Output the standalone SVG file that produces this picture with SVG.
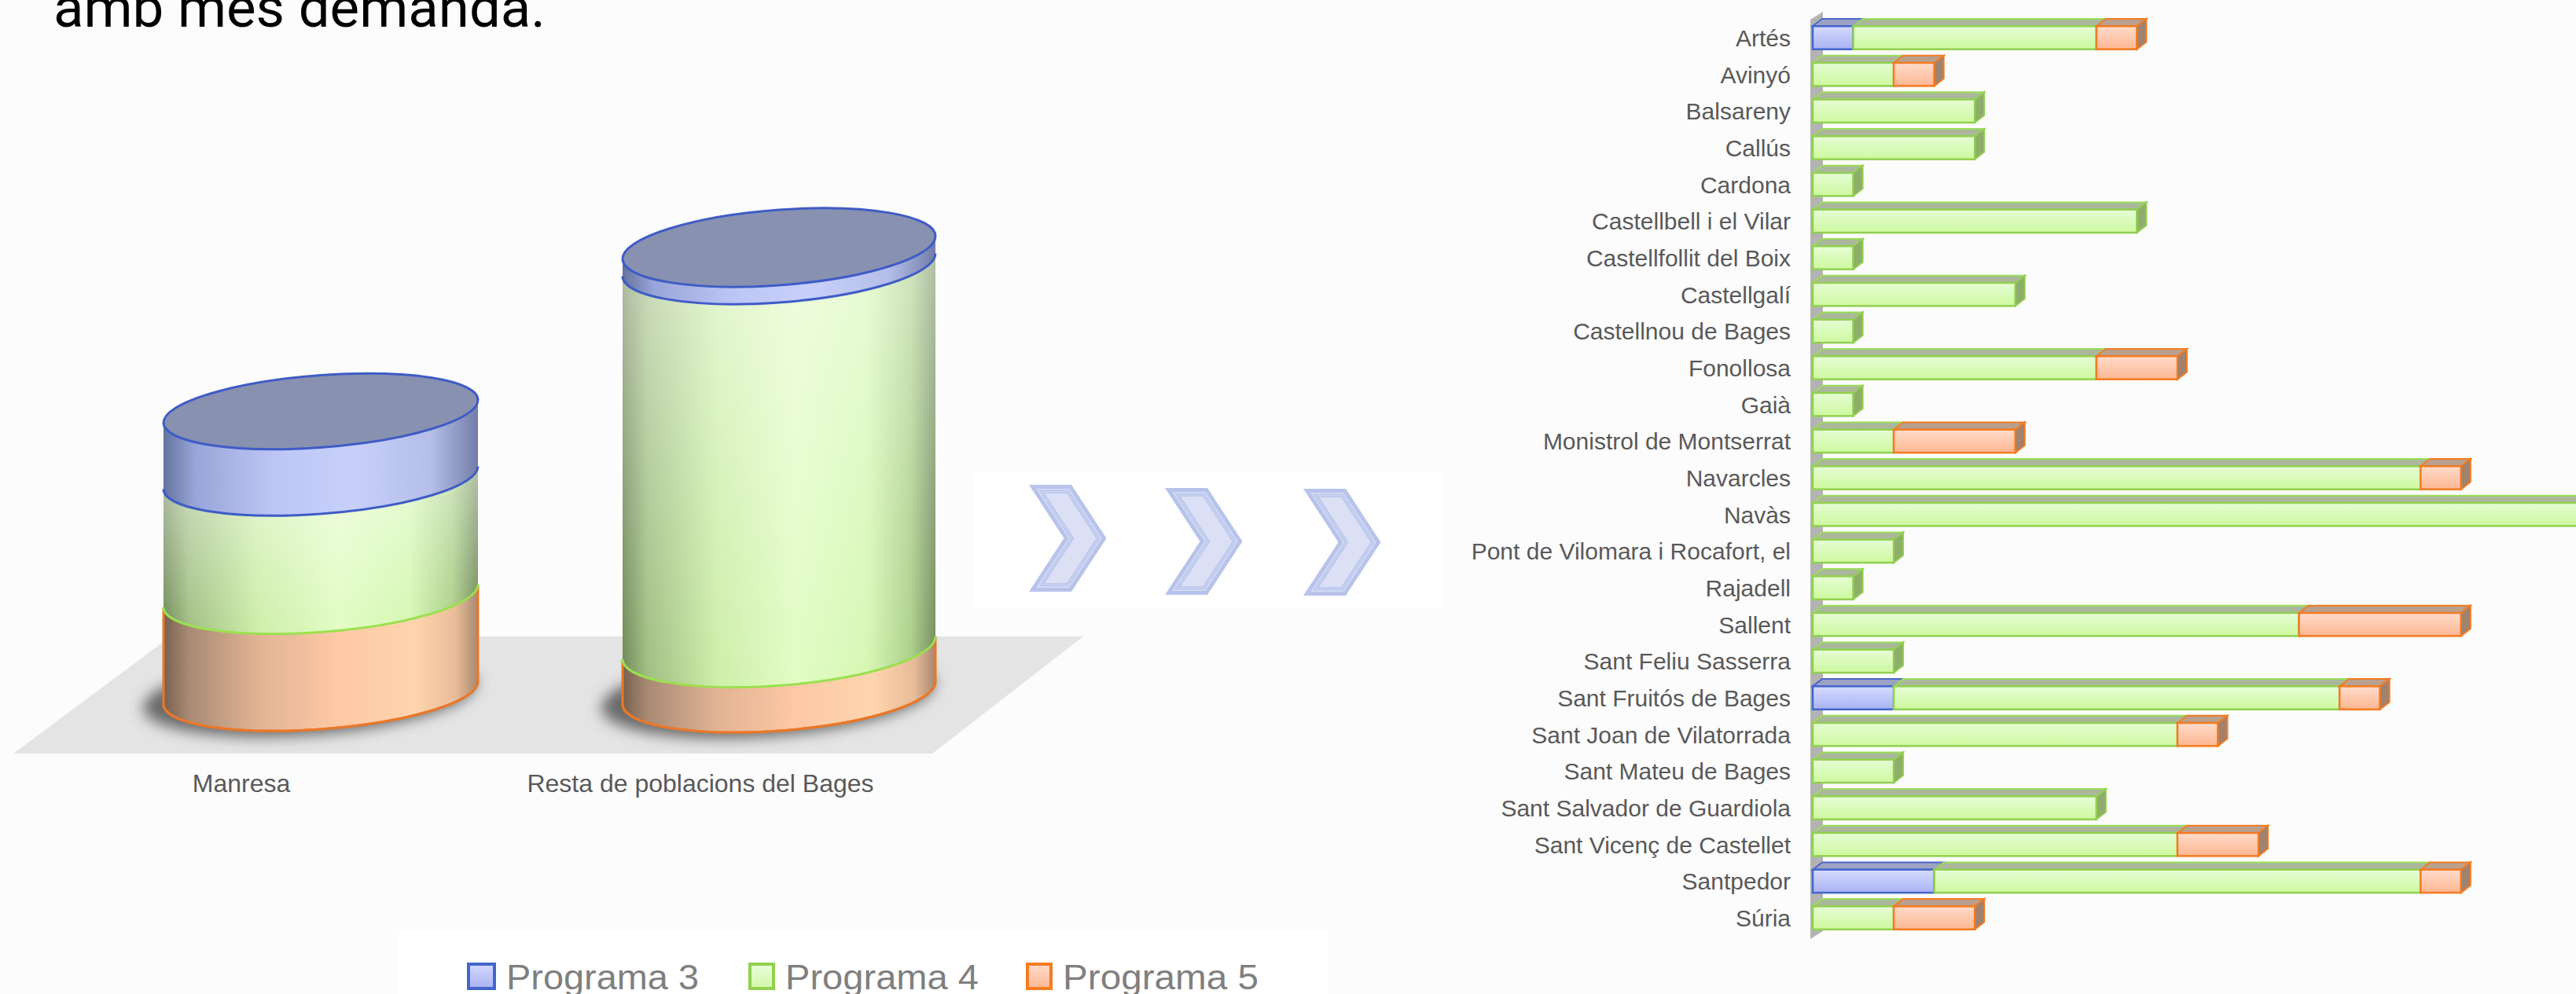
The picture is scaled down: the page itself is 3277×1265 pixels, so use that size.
<svg xmlns="http://www.w3.org/2000/svg" width="3277" height="1265" viewBox="0 0 3277 1265">
<style>
.lbl{font-family:"Liberation Sans",Arial,sans-serif;font-size:30px;fill:#595959;text-anchor:end}
.clbl{font-family:"Liberation Sans",Arial,sans-serif;font-size:32px;fill:#595959;text-anchor:middle}
.leg{font-family:"Liberation Sans",Arial,sans-serif;font-size:45px;fill:#7f7f7f}
.tg{fill:#abb79c;stroke:#9ade58;stroke-width:2}
.fg{fill:url(#gG);stroke:#92d050;stroke-width:2.5}
.rg{fill:#8fad6b;stroke:#92d050;stroke-width:2}
.tb{fill:#9ca3c2;stroke:#4a67cc;stroke-width:2}
.fb{fill:url(#gB);stroke:#4466cc;stroke-width:2.5}
.to{fill:#b9a08f;stroke:#f47b20;stroke-width:2}
.fo{fill:url(#gO);stroke:#f47b20;stroke-width:2.5}
.ro{fill:#a0826e;stroke:#f47b20;stroke-width:2}
.arcO{fill:none;stroke:#e8782a;stroke-width:3}
.arcG{fill:none;stroke:#9be04f;stroke-width:3}
.arcB{fill:none;stroke:#3f5cc6;stroke-width:3}
</style>
<defs>
<linearGradient id="gG" x1="0" y1="0" x2="0" y2="1"><stop offset="0" stop-color="#e6fdd6"/><stop offset="1" stop-color="#cdf99e"/></linearGradient>
<linearGradient id="gB" x1="0" y1="0" x2="0" y2="1"><stop offset="0" stop-color="#d6dbff"/><stop offset="1" stop-color="#a9b3f2"/></linearGradient>
<linearGradient id="gO" x1="0" y1="0" x2="0" y2="1"><stop offset="0" stop-color="#ffdccb"/><stop offset="1" stop-color="#fdb692"/></linearGradient>
<linearGradient id="cyO" x1="0" y1="0" x2="1" y2="0"><stop offset="0" stop-color="#786050"/><stop offset="0.08" stop-color="#a88a74"/><stop offset="0.3" stop-color="#e2b394"/><stop offset="0.55" stop-color="#fdc8a4"/><stop offset="0.8" stop-color="#fed5ae"/><stop offset="0.93" stop-color="#e8bc98"/><stop offset="1" stop-color="#a88870"/></linearGradient>
<linearGradient id="cyG" x1="0" y1="0" x2="1" y2="0"><stop offset="0" stop-color="#6d8755"/><stop offset="0.08" stop-color="#9fbe80"/><stop offset="0.3" stop-color="#cdeea8"/><stop offset="0.55" stop-color="#e2fcc4"/><stop offset="0.78" stop-color="#d6f8b4"/><stop offset="0.92" stop-color="#acd08a"/><stop offset="1" stop-color="#738d5c"/></linearGradient>
<linearGradient id="cyB" x1="0" y1="0" x2="1" y2="0"><stop offset="0" stop-color="#65739f"/><stop offset="0.1" stop-color="#98a5d8"/><stop offset="0.35" stop-color="#bcc6f4"/><stop offset="0.6" stop-color="#c8d0fa"/><stop offset="0.85" stop-color="#b4bee9"/><stop offset="1" stop-color="#737ea8"/></linearGradient>
<linearGradient id="gV" x1="0" y1="0" x2="0" y2="1"><stop offset="0" stop-color="#ffffff" stop-opacity="0.45"/><stop offset="1" stop-color="#ffffff" stop-opacity="0"/></linearGradient>
<linearGradient id="lgB" x1="0" y1="0" x2="0" y2="1"><stop offset="0" stop-color="#d4d9ff"/><stop offset="1" stop-color="#a8b2f0"/></linearGradient>
<linearGradient id="lgG" x1="0" y1="0" x2="0" y2="1"><stop offset="0" stop-color="#eafdda"/><stop offset="1" stop-color="#d0f8a8"/></linearGradient>
<linearGradient id="lgO" x1="0" y1="0" x2="0" y2="1"><stop offset="0" stop-color="#ffdacb"/><stop offset="1" stop-color="#fdb894"/></linearGradient>
<filter id="blur" x="-20%" y="-50%" width="140%" height="200%"><feGaussianBlur stdDeviation="9"/></filter>
<g id="chev">
<polygon points="0,0 54,0 98.5,68 54,136 0,136 44.5,68" fill="#b8c3eb"/>
<polygon points="9.22,5 51.32,5 92.55,68 51.32,131 9.22,131 50.45,68" fill="#d5dcf4"/>
<polygon points="13.84,7.5 49.98,7.5 89.57,68 49.98,128.5 13.84,128.5 53.43,68" fill="none" stroke="#b8c3eb" stroke-width="1.5"/>
<polygon points="18.44,10 48.64,10 86.6,68 48.64,126 18.44,126 56.4,68" fill="#dbe0f5" stroke="#b8c3eb" stroke-width="1.5"/>
</g>
</defs>
<rect x="0" y="0" width="3277" height="1265" fill="#fcfcfc"/>

<text x="68" y="34" font-family="Roboto,'Liberation Sans',sans-serif" font-size="70" fill="#000000" textLength="626" lengthAdjust="spacingAndGlyphs">amb més demanda.</text>

<!-- Left 3D cylinder chart -->
<g id="floor"><polygon points="217,810 1378,810 1186,959 17,959" fill="#e4e4e4"/></g>

<g id="cyl-manresa" transform="translate(408,0) skewY(-4.14) translate(-408,0)">
<ellipse cx="394" cy="884" rx="212" ry="50" fill="#4a4a4a" opacity="0.8" filter="url(#blur)"/>
<path d="M208,758.5 V882 A200,46 0 0 0 608,882 V758.5 Z" fill="url(#cyO)"/>
<path d="M208,758.5 V882 A200,46 0 0 0 608,882 V758.5" class="arcO" stroke-width="2"/>
<path d="M208,882 A200,46 0 0 0 608,882" class="arcO"/>
<path d="M208,608 V758.5 A200,46 0 0 0 608,758.5 V608 Z" fill="url(#cyG)"/>
<path d="M208,608 V758.5 A200,46 0 0 0 608,758.5 V608 Z" fill="url(#gV)"/>
<path d="M208,758.5 A200,46 0 0 0 608,758.5" class="arcG"/>
<path d="M208,523.5 V608 A200,46 0 0 0 608,608 V523.5 Z" fill="url(#cyB)"/>
<path d="M208,608 A200,46 0 0 0 608,608" class="arcB"/>
<ellipse cx="408" cy="523.5" rx="200" ry="46" fill="#8891b0" stroke="#3f5cc6" stroke-width="3"/>
</g>

<g id="cyl-resta" transform="translate(991,0) skewY(-4.14) translate(-991,0)">
<ellipse cx="977" cy="884" rx="212" ry="52" fill="#4a4a4a" opacity="0.8" filter="url(#blur)"/>
<path d="M792,824.5 V882 A199,48 0 0 0 1190,882 V824.5 Z" fill="url(#cyO)"/>
<path d="M792,824.5 V882 A199,48 0 0 0 1190,882 V824.5" class="arcO" stroke-width="2"/>
<path d="M792,882 A199,48 0 0 0 1190,882" class="arcO"/>
<path d="M792,337 V824.5 A199,48 0 0 0 1190,824.5 V337 Z" fill="url(#cyG)"/>
<path d="M792,337 V824.5 A199,48 0 0 0 1190,824.5 V337 Z" fill="url(#gV)"/>
<path d="M792,824.5 A199,48 0 0 0 1190,824.5" class="arcG"/>
<path d="M792,315 V337 A199,48 0 0 0 1190,337 V315 Z" fill="url(#cyB)"/>
<path d="M792,337 A199,48 0 0 0 1190,337" class="arcB"/>
<ellipse cx="991" cy="315" rx="199" ry="48" fill="#8891b0" stroke="#3f5cc6" stroke-width="3"/>
</g>

<g id="cat-labels">
<text class="clbl" x="307" y="1008">Manresa</text>
<text class="clbl" x="891" y="1008">Resta de poblacions del Bages</text>
</g>

<g id="legend">
<rect x="507" y="1183" width="1182" height="90" fill="#ffffff"/>
<rect x="596" y="1227" width="33" height="31" fill="url(#lgB)" stroke="#4466cc" stroke-width="4"/>
<text class="leg" x="644" y="1259" textLength="245" lengthAdjust="spacingAndGlyphs">Programa 3</text>
<rect x="954" y="1227" width="30" height="31" fill="url(#lgG)" stroke="#92d050" stroke-width="4"/>
<text class="leg" x="999" y="1259" textLength="246" lengthAdjust="spacingAndGlyphs">Programa 4</text>
<rect x="1307" y="1227" width="30" height="31" fill="url(#lgO)" stroke="#f47b20" stroke-width="4"/>
<text class="leg" x="1352" y="1259" textLength="249" lengthAdjust="spacingAndGlyphs">Programa 5</text>
</g>

<g id="chevrons">
<rect x="1238" y="601" width="599" height="172" fill="#ffffff"/>
<use href="#chev" transform="translate(1309,617)"/>
<use href="#chev" transform="translate(1482,621)"/>
<use href="#chev" transform="translate(1658,622)"/>
</g>

<!-- Right 3D bar chart -->
<g id="wall"><polygon points="2303,25 2319,15 2319,1185 2303,1195" fill="#b3b3b3"/></g>

<g id="row-artes" transform="translate(0,33.3)">
<text class="lbl" x="2278" y="25.7">Artés</text>
<polygon class="tb" points="2306,0 2318,-9.3 2369.6,-9.3 2357.6,0"/><rect class="fb" x="2306" y="0" width="51.6" height="29.4"/>
<polygon class="tg" points="2357.6,0 2369.6,-9.3 2678.9,-9.3 2666.9,0"/><rect class="fg" x="2357.6" y="0" width="309.3" height="29.4"/>
<polygon class="to" points="2666.9,0 2678.9,-9.3 2730.4,-9.3 2718.4,0"/><rect class="fo" x="2666.9" y="0" width="51.5" height="29.4"/>
<polygon class="ro" points="2718.4,0 2730.4,-9.3 2730.4,20.1 2718.4,29.4"/>
</g>
<g id="row-avinyo" transform="translate(0,80)">
<text class="lbl" x="2278" y="25.7">Avinyó</text>
<polygon class="tg" points="2306,0 2318,-9.3 2421.1,-9.3 2409.1,0"/><rect class="fg" x="2306" y="0" width="103.1" height="29.4"/>
<polygon class="to" points="2409.1,0 2421.1,-9.3 2472.7,-9.3 2460.7,0"/><rect class="fo" x="2409.1" y="0" width="51.6" height="29.4"/>
<polygon class="ro" points="2460.7,0 2472.7,-9.3 2472.7,20.1 2460.7,29.4"/>
</g>
<g id="row-balsareny" transform="translate(0,126.6)">
<text class="lbl" x="2278" y="25.7">Balsareny</text>
<polygon class="tg" points="2306,0 2318,-9.3 2524.2,-9.3 2512.2,0"/><rect class="fg" x="2306" y="0" width="206.2" height="29.4"/>
<polygon class="rg" points="2512.2,0 2524.2,-9.3 2524.2,20.1 2512.2,29.4"/>
</g>
<g id="row-callus" transform="translate(0,173.3)">
<text class="lbl" x="2278" y="25.7">Callús</text>
<polygon class="tg" points="2306,0 2318,-9.3 2524.2,-9.3 2512.2,0"/><rect class="fg" x="2306" y="0" width="206.2" height="29.4"/>
<polygon class="rg" points="2512.2,0 2524.2,-9.3 2524.2,20.1 2512.2,29.4"/>
</g>
<g id="row-cardona" transform="translate(0,220)">
<text class="lbl" x="2278" y="25.7">Cardona</text>
<polygon class="tg" points="2306,0 2318,-9.3 2369.6,-9.3 2357.6,0"/><rect class="fg" x="2306" y="0" width="51.6" height="29.4"/>
<polygon class="rg" points="2357.6,0 2369.6,-9.3 2369.6,20.1 2357.6,29.4"/>
</g>
<g id="row-castellbell" transform="translate(0,266.7)">
<text class="lbl" x="2278" y="25.7">Castellbell i el Vilar</text>
<polygon class="tg" points="2306,0 2318,-9.3 2730.4,-9.3 2718.4,0"/><rect class="fg" x="2306" y="0" width="412.4" height="29.4"/>
<polygon class="rg" points="2718.4,0 2730.4,-9.3 2730.4,20.1 2718.4,29.4"/>
</g>
<g id="row-castellfollit" transform="translate(0,313.3)">
<text class="lbl" x="2278" y="25.7">Castellfollit del Boix</text>
<polygon class="tg" points="2306,0 2318,-9.3 2369.6,-9.3 2357.6,0"/><rect class="fg" x="2306" y="0" width="51.6" height="29.4"/>
<polygon class="rg" points="2357.6,0 2369.6,-9.3 2369.6,20.1 2357.6,29.4"/>
</g>
<g id="row-castellgali" transform="translate(0,360)">
<text class="lbl" x="2278" y="25.7">Castellgalí</text>
<polygon class="tg" points="2306,0 2318,-9.3 2575.8,-9.3 2563.8,0"/><rect class="fg" x="2306" y="0" width="257.8" height="29.4"/>
<polygon class="rg" points="2563.8,0 2575.8,-9.3 2575.8,20.1 2563.8,29.4"/>
</g>
<g id="row-castellnou" transform="translate(0,406.7)">
<text class="lbl" x="2278" y="25.7">Castellnou de Bages</text>
<polygon class="tg" points="2306,0 2318,-9.3 2369.6,-9.3 2357.6,0"/><rect class="fg" x="2306" y="0" width="51.6" height="29.4"/>
<polygon class="rg" points="2357.6,0 2369.6,-9.3 2369.6,20.1 2357.6,29.4"/>
</g>
<g id="row-fonollosa" transform="translate(0,453.3)">
<text class="lbl" x="2278" y="25.7">Fonollosa</text>
<polygon class="tg" points="2306,0 2318,-9.3 2678.9,-9.3 2666.9,0"/><rect class="fg" x="2306" y="0" width="360.9" height="29.4"/>
<polygon class="to" points="2666.9,0 2678.9,-9.3 2782,-9.3 2770,0"/><rect class="fo" x="2666.9" y="0" width="103.1" height="29.4"/>
<polygon class="ro" points="2770,0 2782,-9.3 2782,20.1 2770,29.4"/>
</g>
<g id="row-gaia" transform="translate(0,500)">
<text class="lbl" x="2278" y="25.7">Gaià</text>
<polygon class="tg" points="2306,0 2318,-9.3 2369.6,-9.3 2357.6,0"/><rect class="fg" x="2306" y="0" width="51.6" height="29.4"/>
<polygon class="rg" points="2357.6,0 2369.6,-9.3 2369.6,20.1 2357.6,29.4"/>
</g>
<g id="row-monistrol" transform="translate(0,546.7)">
<text class="lbl" x="2278" y="25.7">Monistrol de Montserrat</text>
<polygon class="tg" points="2306,0 2318,-9.3 2421.1,-9.3 2409.1,0"/><rect class="fg" x="2306" y="0" width="103.1" height="29.4"/>
<polygon class="to" points="2409.1,0 2421.1,-9.3 2575.8,-9.3 2563.8,0"/><rect class="fo" x="2409.1" y="0" width="154.7" height="29.4"/>
<polygon class="ro" points="2563.8,0 2575.8,-9.3 2575.8,20.1 2563.8,29.4"/>
</g>
<g id="row-navarcles" transform="translate(0,593.3)">
<text class="lbl" x="2278" y="25.7">Navarcles</text>
<polygon class="tg" points="2306,0 2318,-9.3 3091.3,-9.3 3079.3,0"/><rect class="fg" x="2306" y="0" width="773.3" height="29.4"/>
<polygon class="to" points="3079.3,0 3091.3,-9.3 3142.8,-9.3 3130.8,0"/><rect class="fo" x="3079.3" y="0" width="51.5" height="29.4"/>
<polygon class="ro" points="3130.8,0 3142.8,-9.3 3142.8,20.1 3130.8,29.4"/>
</g>
<g id="row-navas" transform="translate(0,640)">
<text class="lbl" x="2278" y="25.7">Navàs</text>
<polygon class="tg" points="2306,0 2318,-9.3 3300,-9.3 3300,0"/><rect class="fg" x="2306" y="0" width="1000" height="29.4"/>
</g>
<g id="row-pont" transform="translate(0,686.7)">
<text class="lbl" x="2278" y="25.7">Pont de Vilomara i Rocafort, el</text>
<polygon class="tg" points="2306,0 2318,-9.3 2421.1,-9.3 2409.1,0"/><rect class="fg" x="2306" y="0" width="103.1" height="29.4"/>
<polygon class="rg" points="2409.1,0 2421.1,-9.3 2421.1,20.1 2409.1,29.4"/>
</g>
<g id="row-rajadell" transform="translate(0,733.4)">
<text class="lbl" x="2278" y="25.7">Rajadell</text>
<polygon class="tg" points="2306,0 2318,-9.3 2369.6,-9.3 2357.6,0"/><rect class="fg" x="2306" y="0" width="51.6" height="29.4"/>
<polygon class="rg" points="2357.6,0 2369.6,-9.3 2369.6,20.1 2357.6,29.4"/>
</g>
<g id="row-sallent" transform="translate(0,780)">
<text class="lbl" x="2278" y="25.7">Sallent</text>
<polygon class="tg" points="2306,0 2318,-9.3 2936.6,-9.3 2924.6,0"/><rect class="fg" x="2306" y="0" width="618.6" height="29.4"/>
<polygon class="to" points="2924.6,0 2936.6,-9.3 3142.8,-9.3 3130.8,0"/><rect class="fo" x="2924.6" y="0" width="206.2" height="29.4"/>
<polygon class="ro" points="3130.8,0 3142.8,-9.3 3142.8,20.1 3130.8,29.4"/>
</g>
<g id="row-santfeliu" transform="translate(0,826.7)">
<text class="lbl" x="2278" y="25.7">Sant Feliu Sasserra</text>
<polygon class="tg" points="2306,0 2318,-9.3 2421.1,-9.3 2409.1,0"/><rect class="fg" x="2306" y="0" width="103.1" height="29.4"/>
<polygon class="rg" points="2409.1,0 2421.1,-9.3 2421.1,20.1 2409.1,29.4"/>
</g>
<g id="row-santfruitos" transform="translate(0,873.4)">
<text class="lbl" x="2278" y="25.7">Sant Fruitós de Bages</text>
<polygon class="tb" points="2306,0 2318,-9.3 2421.1,-9.3 2409.1,0"/><rect class="fb" x="2306" y="0" width="103.1" height="29.4"/>
<polygon class="tg" points="2409.1,0 2421.1,-9.3 2988.2,-9.3 2976.2,0"/><rect class="fg" x="2409.1" y="0" width="567.1" height="29.4"/>
<polygon class="to" points="2976.2,0 2988.2,-9.3 3039.7,-9.3 3027.7,0"/><rect class="fo" x="2976.2" y="0" width="51.5" height="29.4"/>
<polygon class="ro" points="3027.7,0 3039.7,-9.3 3039.7,20.1 3027.7,29.4"/>
</g>
<g id="row-santjoan" transform="translate(0,920)">
<text class="lbl" x="2278" y="25.7">Sant Joan de Vilatorrada</text>
<polygon class="tg" points="2306,0 2318,-9.3 2782,-9.3 2770,0"/><rect class="fg" x="2306" y="0" width="464" height="29.4"/>
<polygon class="to" points="2770,0 2782,-9.3 2833.5,-9.3 2821.5,0"/><rect class="fo" x="2770" y="0" width="51.5" height="29.4"/>
<polygon class="ro" points="2821.5,0 2833.5,-9.3 2833.5,20.1 2821.5,29.4"/>
</g>
<g id="row-santmateu" transform="translate(0,966.7)">
<text class="lbl" x="2278" y="25.7">Sant Mateu de Bages</text>
<polygon class="tg" points="2306,0 2318,-9.3 2421.1,-9.3 2409.1,0"/><rect class="fg" x="2306" y="0" width="103.1" height="29.4"/>
<polygon class="rg" points="2409.1,0 2421.1,-9.3 2421.1,20.1 2409.1,29.4"/>
</g>
<g id="row-santsalvador" transform="translate(0,1013.4)">
<text class="lbl" x="2278" y="25.7">Sant Salvador de Guardiola</text>
<polygon class="tg" points="2306,0 2318,-9.3 2678.9,-9.3 2666.9,0"/><rect class="fg" x="2306" y="0" width="360.9" height="29.4"/>
<polygon class="rg" points="2666.9,0 2678.9,-9.3 2678.9,20.1 2666.9,29.4"/>
</g>
<g id="row-santvicenc" transform="translate(0,1060)">
<text class="lbl" x="2278" y="25.7">Sant Vicenç de Castellet</text>
<polygon class="tg" points="2306,0 2318,-9.3 2782,-9.3 2770,0"/><rect class="fg" x="2306" y="0" width="464" height="29.4"/>
<polygon class="to" points="2770,0 2782,-9.3 2885.1,-9.3 2873.1,0"/><rect class="fo" x="2770" y="0" width="103.1" height="29.4"/>
<polygon class="ro" points="2873.1,0 2885.1,-9.3 2885.1,20.1 2873.1,29.4"/>
</g>
<g id="row-santpedor" transform="translate(0,1106.7)">
<text class="lbl" x="2278" y="25.7">Santpedor</text>
<polygon class="tb" points="2306,0 2318,-9.3 2472.7,-9.3 2460.7,0"/><rect class="fb" x="2306" y="0" width="154.7" height="29.4"/>
<polygon class="tg" points="2460.7,0 2472.7,-9.3 3091.3,-9.3 3079.3,0"/><rect class="fg" x="2460.7" y="0" width="618.6" height="29.4"/>
<polygon class="to" points="3079.3,0 3091.3,-9.3 3142.8,-9.3 3130.8,0"/><rect class="fo" x="3079.3" y="0" width="51.5" height="29.4"/>
<polygon class="ro" points="3130.8,0 3142.8,-9.3 3142.8,20.1 3130.8,29.4"/>
</g>
<g id="row-suria" transform="translate(0,1153.4)">
<text class="lbl" x="2278" y="25.7">Súria</text>
<polygon class="tg" points="2306,0 2318,-9.3 2421.1,-9.3 2409.1,0"/><rect class="fg" x="2306" y="0" width="103.1" height="29.4"/>
<polygon class="to" points="2409.1,0 2421.1,-9.3 2524.2,-9.3 2512.2,0"/><rect class="fo" x="2409.1" y="0" width="103.1" height="29.4"/>
<polygon class="ro" points="2512.2,0 2524.2,-9.3 2524.2,20.1 2512.2,29.4"/>
</g>
</svg>
